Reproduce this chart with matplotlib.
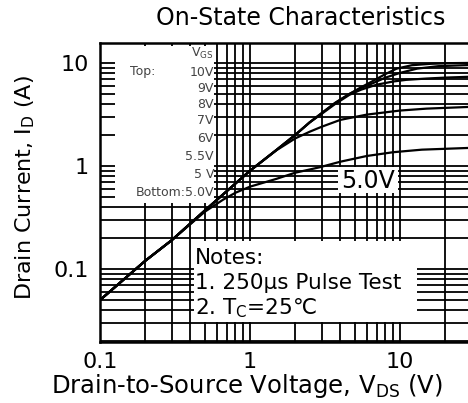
import matplotlib
matplotlib.use("Agg")
import matplotlib.pyplot as plt
from matplotlib.patches import Rectangle

plt.rcParams['font.family'] = ['DejaVu Sans', 'Noto Sans CJK SC']
plt.rcParams['mathtext.default'] = 'regular'

# curves (V_DS in V, I_D in A)
v_10v = [0.1, 0.2, 0.3, 0.5, 0.7, 1.0, 1.5, 2.0, 2.5, 3.0, 3.7, 4.6, 5.5, 6.5, 8.0, 9.5, 12, 16, 22, 30]
i_10v = [0.05, 0.12, 0.19, 0.37, 0.57, 0.9, 1.43, 2.0, 2.65, 3.25, 4.1, 5.0, 5.8, 6.6, 7.8, 8.8, 9.5, 9.8, 9.95, 10.0]

v_9v = [0.1, 0.2, 0.3, 0.5, 0.7, 1.0, 1.5, 2.0, 2.5, 3.0, 3.7, 4.6, 5.5, 6.5, 8.0, 10, 13, 18, 30]
i_9v = [0.05, 0.12, 0.19, 0.37, 0.57, 0.9, 1.43, 2.0, 2.65, 3.25, 4.1, 5.0, 5.7, 6.3, 7.2, 8.0, 8.8, 9.3, 9.55]

v_8v = [0.1, 0.2, 0.3, 0.5, 0.7, 1.0, 1.5, 2.0, 2.5, 3.0, 3.7, 4.6, 5.5, 7.0, 9.0, 11, 15, 20, 30]
i_8v = [0.05, 0.12, 0.19, 0.37, 0.57, 0.9, 1.43, 2.0, 2.65, 3.2, 4.0, 4.9, 5.5, 6.15, 6.6, 6.85, 7.05, 7.2, 7.35]

v_7v = [0.1, 0.2, 0.3, 0.5, 0.7, 1.0, 1.5, 2.0, 2.5, 3.0, 4.0, 6.0, 10, 15, 30]
i_7v = [0.05, 0.12, 0.19, 0.37, 0.57, 0.9, 1.42, 1.85, 2.15, 2.4, 2.8, 3.15, 3.45, 3.6, 3.75]

v_5v = [0.1, 0.2, 0.3, 0.5, 0.66, 0.8, 1.0, 1.5, 2.0, 2.9, 4.0, 6.0, 9.0, 14, 30]
i_5v = [0.05, 0.12, 0.19, 0.36, 0.47, 0.55, 0.63, 0.75, 0.86, 0.97, 1.1, 1.25, 1.36, 1.44, 1.5]

curves = [(v_10v, i_10v), (v_9v, i_9v), (v_8v, i_8v), (v_7v, i_7v), (v_5v, i_5v)]

legend_vgs = ["10V", "9V", "8V", "7V", "6V", "5.5V", "5 V", "Bottom:5.0V"]

W, H = 468, 403
fig = plt.figure(figsize=(W / 100, H / 100), dpi=100)
# axes runs past the right edge of the picture, like the cropped original
ax = fig.add_axes([100 / W, 61 / H, 371.6 / W, 299 / H])
ax.set_xscale('log')
ax.set_yscale('log')
ax.set_xlim(0.1, 30)
ax.set_ylim(0.0196, 15.6)

def px(x, y):
    # picture pixels -> axes fraction
    return (x - 100) / 371.6, (342 - y) / 299

# grid at every 1..9 of each decade
xgrid = [m * d for d in (0.1, 1, 10) for m in range(1, 10)]
ygrid = [m * d for d in (0.01, 0.1, 1, 10) for m in range(1, 10)]
for x in xgrid:
    if 0.1 < x < 30:
        ax.axvline(x, color='black', lw=1.3, zorder=1)
for y in ygrid:
    if 0.0196 < y < 15.6:
        ax.axhline(y, color='black', lw=1.3, zorder=1)

# white boxes that blank the grid
for (x0, y0, x1, y1) in [(115, 46, 214, 203), (338, 167, 398, 193), (194, 241, 417, 322)]:
    a0 = px(x0, y1)
    a1 = px(x1, y0)
    ax.add_patch(Rectangle(a0, a1[0] - a0[0], a1[1] - a0[1], transform=ax.transAxes,
                           facecolor='white', edgecolor='none', zorder=2))

for v, i in curves:
    ax.plot(v, i, color='black', lw=1.6, zorder=3, solid_capstyle='butt')

for s in ax.spines.values():
    s.set_linewidth(1.8)
    s.set_zorder(5)

ax.set_xticks([0.1, 1, 10])
ax.set_xticklabels(['0.1', '1', '10'])
ax.set_yticks([0.1, 1, 10])
ax.set_yticklabels(['0.1', '1', '10'])
ax.minorticks_off()
ax.tick_params(length=0, labelsize=16)
ax.tick_params(axis='x', pad=7)
ax.tick_params(axis='y', pad=8)

# legend block
ax.text(*px(214, 53), "V$_{GS}$", transform=ax.transAxes, ha='right', va='center',
        fontsize=9, color='#444', zorder=4)
ax.text(*px(130, 72), "Top:", transform=ax.transAxes, ha='left', va='center',
        fontsize=9, color='#444', zorder=4)
leg_y = [72, 89, 105, 120, 138, 157, 174, 192]
for lab, yy in zip(legend_vgs, leg_y):
    ax.text(*px(214, yy), lab, transform=ax.transAxes, ha='right', va='center',
            fontsize=9, color='#444', zorder=4)

ax.text(*px(368, 181), "5.0V", transform=ax.transAxes, ha='center', va='center',
        fontsize=17, zorder=4)

ax.text(*px(195, 258), "Notes:", transform=ax.transAxes, ha='left', va='center', fontsize=15.5, zorder=4)
ax.text(*px(195, 283), "1. 250μs Pulse Test", transform=ax.transAxes, ha='left', va='center', fontsize=15.5, zorder=4)
ax.text(*px(195, 308), "2. T$_C$=25℃", transform=ax.transAxes, ha='left', va='center', fontsize=15.5, zorder=4)

fig.text(301 / W, 1 - 18 / H, "On-State Characteristics", ha='center', va='center', fontsize=17)
fig.text(247 / W, 1 - 386 / H, "Drain-to-Source Voltage, V$_{DS}$ (V)", ha='center', va='center', fontsize=17.5)
fig.text(25 / W, 1 - 188 / H, "Drain Current, I$_D$ (A)", ha='center', va='center', rotation=90, fontsize=16)

fig.savefig("out.png", dpi=100)
